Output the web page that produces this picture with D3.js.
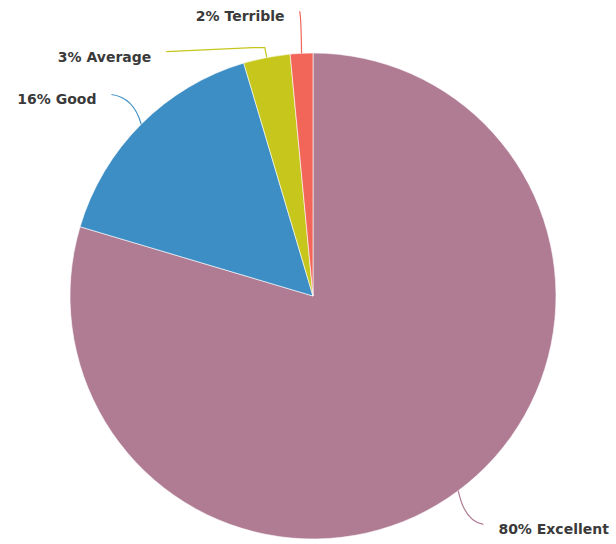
<!DOCTYPE html>
<html>
<head>
<meta charset="utf-8">
<script src="https://cdn.jsdelivr.net/npm/d3@7"></script>
<style>
  body { margin: 0; background: #fff; }
  text { font-family: "DejaVu Sans", sans-serif; font-weight: bold; font-size: 14px; fill: #3a3a3a; }
</style>
</head>
<body>
<div id="pie_chart"></div>
<script>
const categories = ["Excellent", "Good", "Average", "Terrible"];
const shares = [79.6, 15.8, 3.1, 1.5];
const labels = ["80% Excellent", "16% Good", "3% Average", "2% Terrible"];

let width_pie = 616,
    height_pie = 544,
    cx = 313,
    cy = 296,
    radius = 243;

const svg_pie = d3.select("#pie_chart")
  .append("svg")
  .attr("width", width_pie)
  .attr("height", height_pie);

const color = d3.scaleOrdinal()
  .domain(categories)
  .range(["#b07c94", "#3d8ec4", "#c6c61c", "#f2665a"]);

const data = categories.map((c, i) => ({ name: c, value: shares[i], label: labels[i] }));

const pie = d3.pie().sort(null).value(d => d.value);
const arcs = pie(data);

const arc = d3.arc().innerRadius(0).outerRadius(radius);

const g = svg_pie.append("g").attr("transform", `translate(${cx},${cy})`);

g.selectAll("path")
  .data(arcs)
  .join("path")
  .attr("d", arc)
  .attr("fill", d => color(d.data.name))
  .attr("stroke", "#fff")
  .attr("stroke-width", 0.6);

// point at an angle (clockwise from 12 o'clock) and radius
const pt = (a, r) => [Math.sin(a) * r, -Math.cos(a) * r];

// leader layout: end angle shift (deg) and which side the text goes
const layout = {
  Excellent: { shift: 0, side: 1 },
  Good: { shift: 0, side: -1 },
  Average: { shift: -20, side: -1, elbow: true },
  Terrible: { shift: 0, side: -1 }
};

arcs.forEach(d => {
  const mid = (d.startAngle + d.endAngle) / 2;
  const L = layout[d.data.name];
  const p0 = pt(mid, radius);
  const endA = mid + L.shift * Math.PI / 180;
  let p2 = pt(endA, radius + 42);
  const path = d3.path();
  path.moveTo(p0[0], p0[1]);
  if (L.elbow) {
    const p1 = pt(mid, radius + 10);
    p2 = [p2[0], p1[1] + 4];
    path.lineTo(p1[0], p1[1]);
    path.quadraticCurveTo(p1[0] - 4, p1[1], p1[0] - 12, p1[1]);
    path.lineTo(p2[0], p2[1]);
  } else {
    // curve that leaves the label level and bends down to the rim
    const c = [p2[0] + (p0[0] - p2[0]) * 0.75, p2[1] + (p0[1] - p2[1]) * 0.1];
    path.quadraticCurveTo(c[0], c[1], p2[0], p2[1]);
  }
  g.append("path")
    .attr("d", path.toString())
    .attr("fill", "none")
    .attr("stroke", color(d.data.name))
    .attr("stroke-width", 1.2);

  g.append("text")
    .attr("x", p2[0] + L.side * 15)
    .attr("y", p2[1] + 5)
    .attr("dy", "0.35em")
    .attr("text-anchor", L.side > 0 ? "start" : "end")
    .text(d.data.label);
});
</script>
</body>
</html>
